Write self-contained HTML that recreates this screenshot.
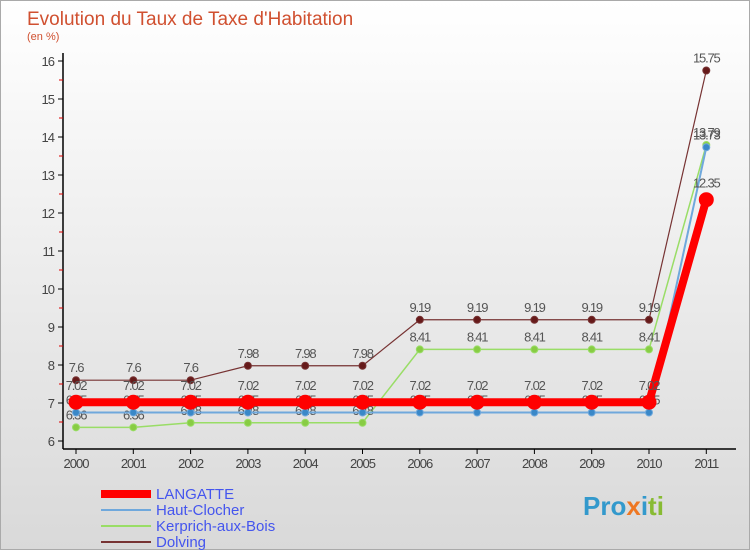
<!DOCTYPE html>
<html><head><meta charset="utf-8"><style>
body{margin:0;width:750px;height:550px;overflow:hidden;font-family:"Liberation Sans",sans-serif}
#c{position:absolute;left:0;top:0;width:748px;height:548px;border:1px solid #aaa;background:linear-gradient(to bottom,#ffffff,#d9d9d9)}
</style></head><body>
<div id="c">
<svg width="750" height="550">
<text x="26" y="24" font-size="19" fill="#d05030" font-weight="300">Evolution du Taux de Taxe d'Habitation</text>
<text x="26" y="39" font-size="11" fill="#d05030">(en %)</text>
<g id="axes"></g><g id="series"></g>
<g font-size="15" fill="#4455ee">
<rect x="100" y="489" width="50" height="8" fill="#ff0000"/>
<text x="155" y="498">LANGATTE</text>
<rect x="100" y="508" width="50" height="2" fill="#6fa8dc"/>
<text x="155" y="514">Haut-Clocher</text>
<rect x="100" y="524" width="50" height="2" fill="#99dd66"/>
<text x="155" y="530">Kerprich-aux-Bois</text>
<rect x="100" y="540" width="50" height="2" fill="#773333"/>
<text x="155" y="546">Dolving</text>
</g>
<text x="582" y="514" font-size="26" font-weight="bold" fill="#3399cc">Pro<tspan fill="#ee7722">x</tspan>i<tspan fill="#88bb33">ti</tspan></text>
</svg></div>
<script>
const years=[2000,2001,2002,2003,2004,2005,2006,2007,2008,2009,2010,2011];
const yTicks=[6,7,8,9,10,11,12,13,14,15,16];
const langatte=[7.02,7.02,7.02,7.02,7.02,7.02,7.02,7.02,7.02,7.02,7.02,12.35];
const hautClocher=[6.75,6.75,6.75,6.75,6.75,6.75,6.75,6.75,6.75,6.75,6.75,13.73];
const kerprich=[6.36,6.36,6.48,6.48,6.48,6.48,8.41,8.41,8.41,8.41,8.41,13.79];
const dolving=[7.6,7.6,7.6,7.98,7.98,7.98,9.19,9.19,9.19,9.19,9.19,15.75];
const NS="http://www.w3.org/2000/svg";
const X=i=>75+i*57.3, Y=v=>440-(v-6)*38;
function mk(t,a,p){const e=document.createElementNS(NS,t);for(const k in a)e.setAttribute(k,a[k]);p.appendChild(e);return e;}
const ax=document.getElementById('axes');
let l=mk('line',{x1:62,y1:52,x2:62,y2:448,stroke:'#000','stroke-width':1.5},ax);


l=mk('line',{x1:62,y1:448,x2:735,y2:448,stroke:'#000','stroke-width':1.5},ax);


yTicks.forEach(v=>{mk('line',{x1:57,x2:62,y1:Y(v),y2:Y(v),stroke:'#000'},ax);
if(v<16)mk('line',{x1:58,x2:62,y1:Y(v+.5),y2:Y(v+.5),stroke:'#d00'},ax);
const t=mk('text',{x:53,y:Y(v)+5,'font-size':13,'text-anchor':'end',fill:'#444','letter-spacing':'-1'},ax);t.textContent=v;

});
years.forEach((y,i)=>{mk('line',{x1:X(i),x2:X(i),y1:448,y2:453,stroke:'#000'},ax);
const t=mk('text',{x:X(i),y:467,'font-size':13,'text-anchor':'middle',fill:'#444','letter-spacing':'-1'},ax);t.textContent=y;

});
const sg=document.getElementById('series');
function series(d,name,col,lw,r,dot,lbl){const g=mk('g',{},sg);


mk('polyline',{points:d.map((v,i)=>X(i)+','+Y(v)).join(' '),fill:'none',stroke:col,'stroke-width':lw},g);
d.forEach((v,i)=>{const c=mk('circle',{cx:X(i),cy:Y(v),r:r,fill:dot,stroke:col,'stroke-width':1},g);


const t=mk('text',{x:X(i),y:Y(v)-lbl,'font-size':13,'text-anchor':'middle',fill:'#555','letter-spacing':'-1.2'},g);t.textContent=v;});}
series(kerprich,'kerprich','#99dd66',1.5,3.5,'#88cc44',8);
series(dolving,'dolving','#773333',1.2,3.5,'#661a1a',8);
series(hautClocher,'haut-clocher','#6fa8dc',2,3.5,'#3a88c8',8);
series(langatte,'langatte','#ff0000',8,7,'#ff0000',12);
</script></body></html>
